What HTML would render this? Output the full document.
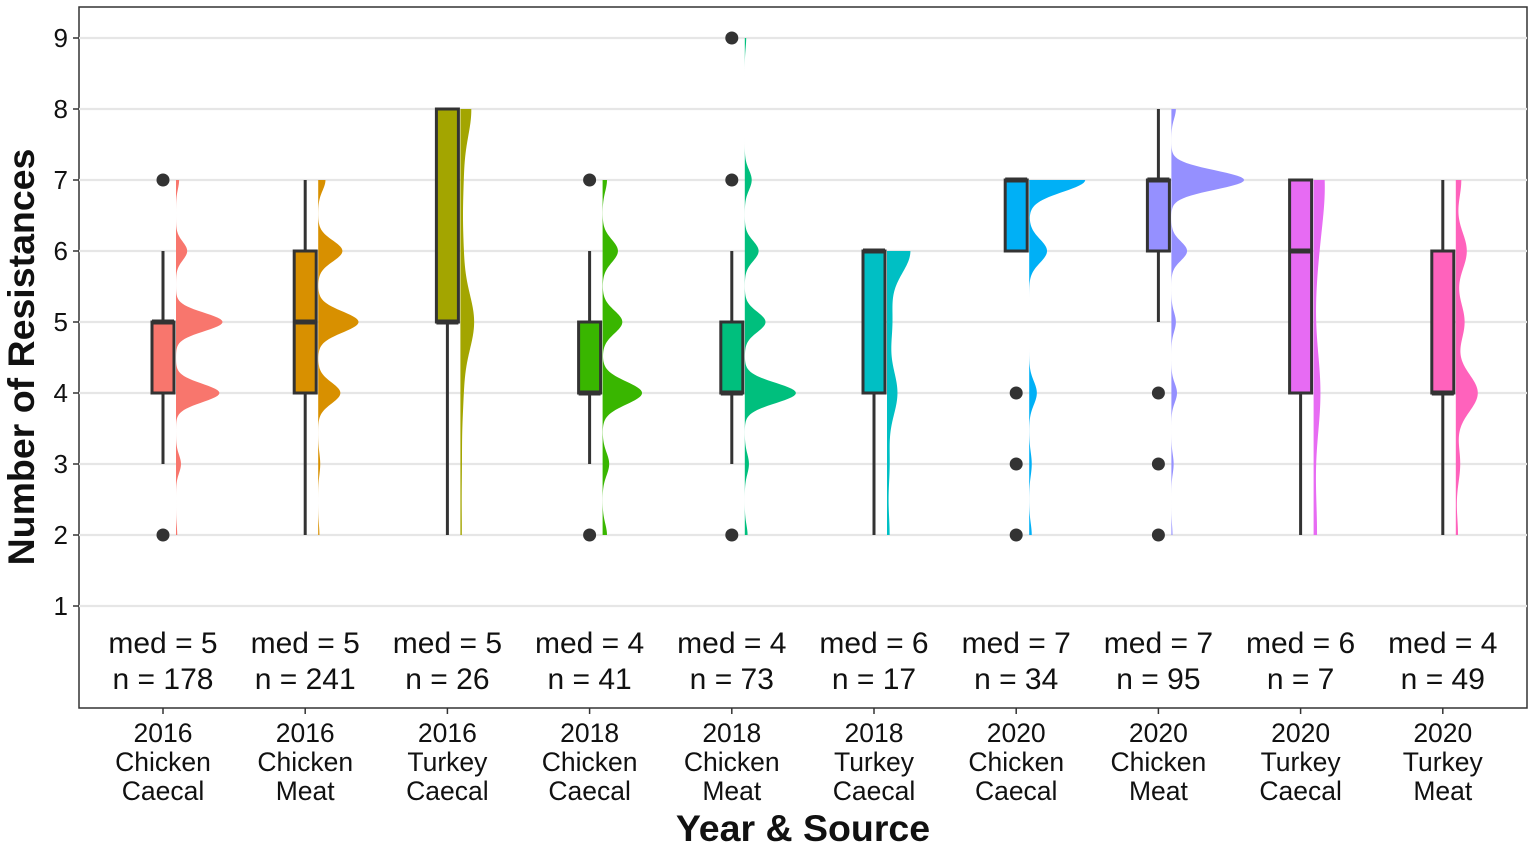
<!DOCTYPE html>
<html><head><meta charset="utf-8">
<style>
body{margin:0;background:#fff;}
svg text{font-family:"Liberation Sans",Arial,sans-serif;fill:#111;}
</style></head>
<body>
<svg id="chart" width="1535" height="848" viewBox="0 0 1535 848" xmlns="http://www.w3.org/2000/svg">
<rect x="79" y="7" width="1448" height="701" fill="#fff" stroke="#333" stroke-width="1.5"/>
<g id="grid"></g>
<g id="marks"></g>
<g id="labels"></g>
<text x="803" y="841" text-anchor="middle" font-size="37.5" font-weight="bold">Year &amp; Source</text>
<text transform="translate(34,357) rotate(-90)" text-anchor="middle" font-size="37.5" font-weight="bold">Number of Resistances</text>
</svg>
<script>
const groups = ["2016|Chicken|Caecal","2016|Chicken|Meat","2016|Turkey|Caecal","2018|Chicken|Caecal","2018|Chicken|Meat","2018|Turkey|Caecal","2020|Chicken|Caecal","2020|Chicken|Meat","2020|Turkey|Caecal","2020|Turkey|Meat"];
const levels = [2,3,4,5,6,7,8,9];
// counts of isolates per number of resistances (levels 2..9)
const counts = [
 [2,8,70,75,18,5,0,0],
 [3,5,55,100,60,18,0,0],
 [1,1,2,10,2,2,8,0],
 [2,3,18,9,7,2,0,0],
 [2,3,37,15,10,5,0,1],
 [1,1,4,2,9,0,0,0],
 [1,1,3,0,7,22,0,0],
 [1,2,5,4,14,65,4,0],
 [1,0,2,0,1,3,0,0],
 [2,4,20,8,10,5,0,0]
];
const yTicks = [1,2,3,4,5,6,7,8,9];
const colors = ["#F8766D","#D89000","#A3A500","#39B600","#00BF7D","#00BFC4","#00B0F6","#9590FF","#E76BF3","#FF62BC"];

const NS="http://www.w3.org/2000/svg";
const y = v => 606 - (v-1)*71;
const x = i => 163 + i*142.2;
function mk(tag, attrs, parent){const e=document.createElementNS(NS,tag);for(const k in attrs)e.setAttribute(k,attrs[k]);parent.appendChild(e);return e;}
const grid=document.getElementById('grid'), marks=document.getElementById('marks'), labels=document.getElementById('labels');

yTicks.forEach(t=>{
  const g=mk('line',{x1:79,x2:1527,y1:y(t),y2:y(t),stroke:'#e6e6e6','stroke-width':2.2},grid);
  
  
  const tk=mk('line',{x1:73,x2:79,y1:y(t),y2:y(t),stroke:'#333','stroke-width':1.5},grid);
  
  
  const tl=mk('text',{x:68,y:y(t)+9,'text-anchor':'end','font-size':26,fill:'#222'},grid);
  tl.textContent=t;
  
  
});

function quant(arr,p){const h=(arr.length-1)*p,lo=Math.floor(h),hi=Math.ceil(h);return arr[lo]+(arr[hi]-arr[lo])*(h-lo);}
function sd(a){const m=a.reduce((s,v)=>s+v,0)/a.length;return Math.sqrt(a.reduce((s,v)=>s+(v-m)*(v-m),0)/(a.length-1));}

groups.forEach((gname,i)=>{
  const data=[];counts[i].forEach((c,j)=>{for(let k=0;k<c;k++)data.push(levels[j]);});
  const n=data.length;
  const q1=quant(data,.25),med=quant(data,.5),q3=quant(data,.75),iqr=q3-q1;
  const inside=data.filter(v=>v>=q1-1.5*iqr&&v<=q3+1.5*iqr);
  const wlo=Math.min(...inside),whi=Math.max(...inside);
  const outs=[...new Set(data.filter(v=>v<q1-1.5*iqr||v>q3+1.5*iqr))];
  const cx=x(i);
  let bw=0.9*Math.min(sd(data),iqr/1.34||sd(data))*Math.pow(n,-0.2)*0.5;
  bw=Math.max(bw,0.13);
  const lo=Math.min(...data),hi=Math.max(...data);
  const base=cx+13;let pts=[`${base},${y(lo)}`];
  for(let v=lo;v<=hi+1e-9;v+=0.02){
    let d=0;counts[i].forEach((c,j)=>{const z=(v-levels[j])/bw;d+=c*Math.exp(-0.5*z*z);});
    d=d/(n*bw*2.5066);
    pts.push(`${base+d*36},${y(v)}`);
  }
  pts.push(`${base},${y(hi)}`);
  const vp=mk('polygon',{points:pts.join(' '),fill:colors[i]},marks);
  
  
  const w1=mk('line',{x1:cx,x2:cx,y1:y(wlo),y2:y(q1),stroke:'#333','stroke-width':3},marks);
  
  
  const w2=mk('line',{x1:cx,x2:cx,y1:y(whi),y2:y(q3),stroke:'#333','stroke-width':3},marks);
  
  
  const bx=mk('rect',{x:cx-11,y:y(q3),width:22,height:Math.max(y(q1)-y(q3),0.1),fill:colors[i],stroke:'#333','stroke-width':3},marks);
  
  
  const ml=mk('line',{x1:cx-11,x2:cx+11,y1:y(med),y2:y(med),stroke:'#333','stroke-width':5},marks);
  
  
  outs.forEach(o=>{
    const c=mk('circle',{cx:cx,cy:y(o),r:6.5,fill:'#333'},marks);
    
    
  });
  const t1=mk('text',{x:cx,y:653,'text-anchor':'middle','font-size':30},labels);
  t1.textContent='med = '+med;
  
  
  const t2=mk('text',{x:cx,y:689,'text-anchor':'middle','font-size':30},labels);
  t2.textContent='n = '+n;
  
  
  const tk=mk('line',{x1:cx,x2:cx,y1:708,y2:714,stroke:'#333','stroke-width':1.5},labels);
  
  
  gname.split('|').forEach((s,k)=>{
    const t=mk('text',{x:cx,y:742+k*29,'text-anchor':'middle','font-size':26.5,fill:'#222'},labels);
    t.textContent=s;
    
    
  });
});
</script>
</body></html>
